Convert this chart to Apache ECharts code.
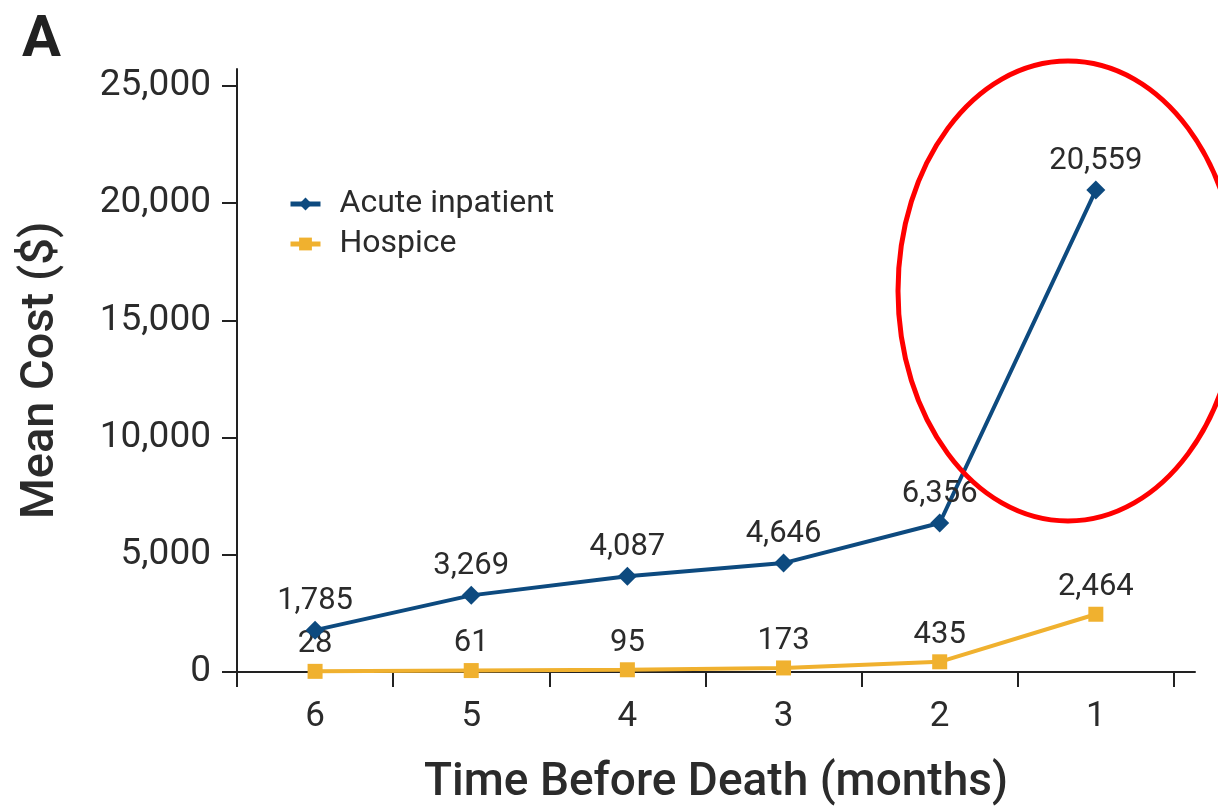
<!DOCTYPE html>
<html>
<head>
<meta charset="utf-8">
<script src="https://cdn.jsdelivr.net/npm/echarts@6/dist/echarts.min.js"></script>
<style>
  html, body { margin: 0; padding: 0; background: #fff; }
  #chart { width: 1218px; height: 806px; }
</style>
</head>
<body>
<div id="chart"></div>
<script>
// months before death, shown left to right
const months = [6, 5, 4, 3, 2, 1]
const acuteInpatient = [1785, 3269, 4087, 4646, 6356, 20559]
const hospice = [28, 61, 95, 173, 435, 2464]
const yTicks = [0, 5000, 10000, 15000, 20000, 25000]

const textColor = '#2b2b2b'
const fontFamily = 'Roboto, "Liberation Sans", sans-serif'

const fmt = v => v.toLocaleString('en-US')
const pairs = arr => months.map((m, i) => [m, arr[i]])
const xBounds = months.map(m => m + 0.5).concat([0.5])

const chart = echarts.init(document.getElementById('chart'))
chart.setOption({
  animation: false,
  textStyle: { fontFamily: fontFamily, color: textColor },
  grid: { left: 237, right: 23, top: 69, bottom: 134, outerBoundsMode: 'none' },
  legend: {
    left: 283,
    top: 183,
    orient: 'vertical',
    itemWidth: 30,
    itemHeight: 16,
    itemGap: 8,
    lineStyle: { width: 5 },
    textStyle: { fontSize: 32, color: textColor, fontFamily: fontFamily, padding: [0, 0, 0, 14] },
    data: ['Acute inpatient', 'Hospice']
  },
  xAxis: {
    type: 'value',
    inverse: true,
    min: 0.365,
    max: 6.5,
    name: 'Time Before Death (months)',
    nameLocation: 'middle',
    nameGap: 88,
    nameTextStyle: { fontSize: 46, color: textColor, fontWeight: 500 },
    splitLine: { show: false },
    axisLine: { show: true, lineStyle: { color: '#222', width: 2 } },
    axisTick: { show: true, customValues: xBounds, length: 15, lineStyle: { color: '#222', width: 2 } },
    axisLabel: { customValues: months, fontSize: 35, color: textColor, margin: 28 }
  },
  yAxis: {
    type: 'value',
    min: 0,
    max: 25725,
    name: 'Mean Cost ($)',
    nameLocation: 'middle',
    nameGap: 172,
    nameRotate: 90,
    nameTextStyle: { fontSize: 47, color: textColor, fontWeight: 500 },
    splitLine: { show: false },
    axisLine: { show: true, lineStyle: { color: '#222', width: 2 } },
    axisTick: { show: true, customValues: yTicks, length: 15, lineStyle: { color: '#222', width: 2 } },
    axisLabel: { customValues: yTicks, fontSize: 37, color: textColor, margin: 26, formatter: v => fmt(v) }
  },
  series: [
    {
      name: 'Acute inpatient',
      type: 'line',
      data: pairs(acuteInpatient),
      symbol: 'diamond',
      symbolSize: 19,
      itemStyle: { color: '#0d4a7f' },
      lineStyle: { color: '#0d4a7f', width: 4 },
      label: {
        show: true, position: 'top', distance: 4, fontSize: 31, color: textColor,
        formatter: p => fmt(p.value[1])
      },
      z: 3
    },
    {
      name: 'Hospice',
      type: 'line',
      data: pairs(hospice),
      symbol: 'rect',
      symbolSize: 15,
      itemStyle: { color: '#f0b12f' },
      lineStyle: { color: '#f0b12f', width: 4 },
      label: {
        show: true, position: 'top', distance: 4, fontSize: 31, color: textColor,
        formatter: p => fmt(p.value[1])
      },
      z: 2
    }
  ],
  graphic: [
    {
      type: 'text',
      left: 22,
      top: 12,
      style: { text: 'A', font: 'bold 58px ' + fontFamily, fill: '#222' }
    },
    {
      type: 'ellipse',
      shape: { cx: 1068, cy: 291, rx: 170, ry: 230 },
      style: { fill: 'none', stroke: '#ff0000', lineWidth: 5 },
      z: 10
    }
  ]
})
</script>
</body>
</html>
